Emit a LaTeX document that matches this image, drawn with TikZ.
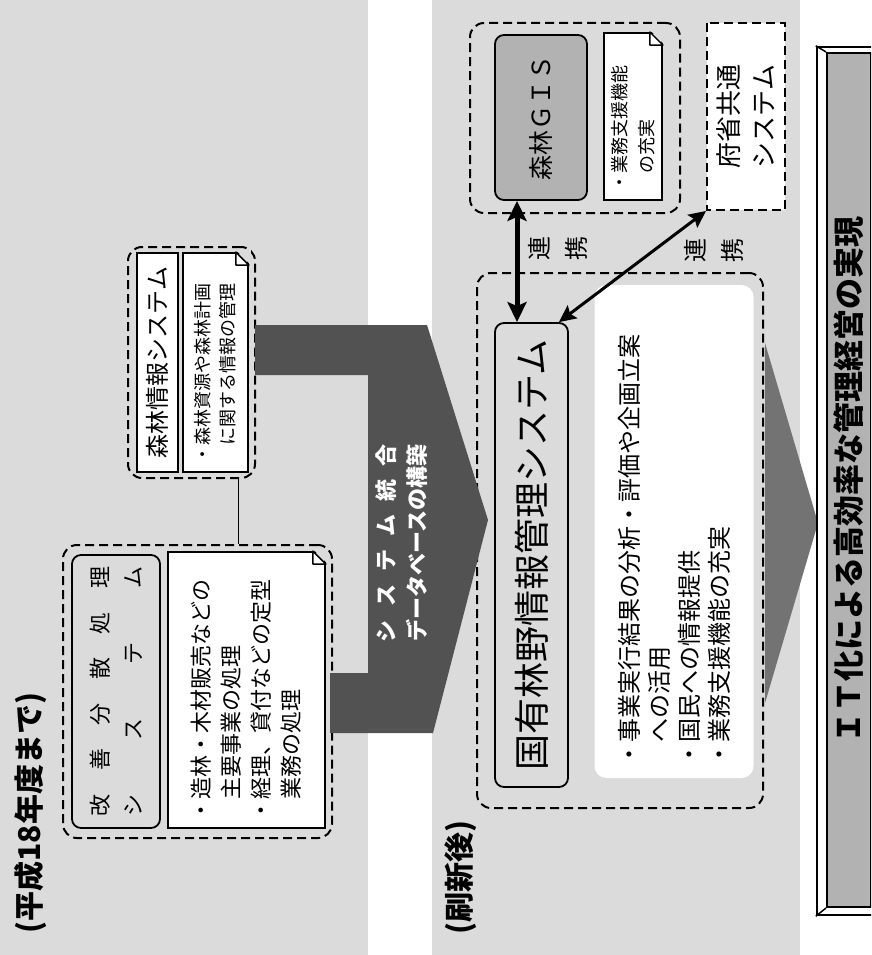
\documentclass[tikz,border=0pt]{standalone}
\usepackage{fontspec}
\setmainfont{Noto Sans CJK JP}
\usepackage{tikz}
\usetikzlibrary{shapes.geometric, arrows, arrows.meta, positioning}
\definecolor{panelgray}{gray}{0.86}
\definecolor{boxgray}{gray}{0.70}
\definecolor{darkarrow}{gray}{0.32}
\definecolor{lightarrow}{gray}{0.45}
\tikzstyle{group} = [rectangle, draw=black, line width=2pt, dash pattern=on 9pt off 5pt, rounded corners=14pt]
\tikzstyle{plainbox} = [rectangle, rotate=90, draw=black, line width=1.8pt, fill=white, align=center, inner sep=0pt]
\tikzstyle{roundbox} = [plainbox, rounded corners=9pt, fill=none]
\tikzstyle{doc} = [plainbox, align=left]
\tikzstyle{heading} = [rotate=90, inner sep=0pt, font=\bfseries\fontsize{30}{30}\selectfont]
\tikzstyle{linkname} = [rotate=90, align=center, inner sep=0pt, font=\fontsize{24}{37}\selectfont]
\tikzstyle{linkarrow} = [<->, >={Stealth[length=20pt, width=19pt, inset=4pt]}]
\tikzstyle{linkarrowthin} = [<->, >={Stealth[length=17pt, width=16pt, inset=3pt]}]
\newcommand{\docfold}[1]{%
  \fill[panelgray] ([xshift=-13pt,yshift=2pt]#1.south east) -- ([xshift=2pt,yshift=2pt]#1.south east) -- ([xshift=2pt,yshift=-13pt]#1.south east) -- cycle;
  \draw[line width=1.5pt, line join=round] ([xshift=-13pt]#1.south east) -- ([xshift=-13pt,yshift=-13pt]#1.south east) -- ([yshift=-13pt]#1.south east) -- cycle;}

\begin{document}
\begin{tikzpicture}[x=1pt, y=-1pt]
	\useasboundingbox (0,0) rectangle (871,955);
	\clip (0,0) rectangle (871,955);
	\fill[panelgray] (0,0) rectangle (368,955);
	\fill[panelgray] (432,0) rectangle (800,955);

	% before
	\node (titleBefore) [heading] at (30,813) {(平成18年度まで)};
	\node (grpForest) [group, minimum width=127pt, minimum height=231pt] at (191.5,362.5) {};
	\node (forestInfo) [plainbox, minimum width=219pt, minimum height=41pt, font=\fontsize{24}{24}\selectfont] at (157.5,362.5) {森林情報システム};
	\node (forestDoc) [doc, minimum width=219pt, minimum height=65pt, text width=202pt, font=\fontsize{18}{25}\selectfont] at (215.5,362.5) {・森林資源や森林計画\\　に関する情報の管理};
	\docfold{forestDoc}

	\node (grpKaizen) [group, minimum width=269pt, minimum height=293pt] at (197.5,691.5) {};
	\node (kaizen) [roundbox, minimum width=273pt, minimum height=88pt, font=\fontsize{22}{33}\selectfont] at (116,691.5) {\hbox to 250pt{改\hfill 善\hfill 分\hfill 散\hfill 処\hfill 理}\\\hbox to 250pt{シ\hfill ス\hfill テ\hfill ム}};
	\node (kaizenDoc) [doc, minimum width=276pt, minimum height=157pt, text width=262pt, font=\fontsize{22}{30}\selectfont] at (246.5,690) {・造林・木材販売などの\\　主要事業の処理\\・経理、貸付などの定型\\　業務の処理};
	\docfold{kaizenDoc}

	\draw [line width=1pt] ([xshift=-18pt]grpForest.south east) -- ([xshift=-18pt]grpForest.south east |- grpKaizen.north);

	% after
	\node (titleAfter) [heading] at (461,877) {(刷新後)};
	\fill[lightarrow] (765,343) -- (818,523) -- (765,703) -- cycle;
	\node (grpKokuyu) [group, minimum width=286pt, minimum height=535pt] at (620,540.5) {};
	\node (kokuyu) [roundbox, minimum width=464pt, minimum height=73pt, font=\fontsize{36}{36}\selectfont] at (531.5,555) {国有林野情報管理システム};
	\node (kokuyuDoc) [rotate=90, fill=white, rounded corners=12pt, align=left, minimum width=493pt, minimum height=159pt, text width=470pt, font=\fontsize{24}{30}\selectfont] at (674,531.5) {・事業実行結果の分析・評価や企画立案\\　への活用\\・国民への情報提供\\・業務支援機能の充実};

	\fill[darkarrow] (255,325) -- (427,325) -- (488,520) -- (433,733) -- (330,733) -- (330,673) -- (368,673) -- (368,375) -- (255,375) -- cycle;
	\node (mergeText) [rotate=90, align=center, inner sep=0pt, text=white, font=\bfseries\fontsize{22}{31}\selectfont] at (402,543) {\hbox to 198pt{シ\hfill ス\hfill テ\hfill ム\hfill 統\hfill 合}\\データベースの構築};

	\node (grpGis) [group, minimum width=210pt, minimum height=190pt] at (575,118) {};
	\node (gis) [roundbox, fill=boxgray, minimum width=165pt, minimum height=92pt, font=\fontsize{25}{25}\selectfont] at (541,117.5) {森林ＧＩＳ};
	\node (gisDoc) [doc, minimum width=167pt, minimum height=58pt, text width=150pt, font=\fontsize{18}{27}\selectfont] at (633,116.5) {・業務支援機能\\　の充実};
	\docfold{gisDoc}
	\node (fusho) [group, sharp corners, rotate=90, fill=white, align=center, minimum width=187pt, minimum height=78pt, font=\fontsize{26}{35}\selectfont] at (746,116.5) {府省共通\\システム};

	\draw [linkarrow, line width=5pt] ([xshift=-24pt]gis.west) -- ([xshift=-24pt]gis.west |- kokuyu.east);
	\draw [linkarrowthin, line width=3pt] ([xshift=-10pt]kokuyu.south east) -- (fusho.north west);
	\node (renkeiGis) [linkname] at (558,248) {連\\携};
	\node (renkeiFusho) [linkname] at (714,250) {連\\携};

	% result
	\node (bannerFrame) [rectangle, draw=black, line width=2.5pt, fill=white, minimum width=64pt, minimum height=868pt] at (849,481) {};
	\node (banner) [rectangle, rotate=90, draw=black, line width=2pt, fill=boxgray, inner sep=0pt, minimum width=854pt, minimum height=44pt, font=\bfseries\fontsize{31}{31}\selectfont] at (849,480) {ＩＴ化による高効率な管理経営の実現};
	\draw [line width=1.5pt] (bannerFrame.north west) -- (banner.north east);
	\draw [line width=1.5pt] (bannerFrame.south west) -- (banner.north west);
	\draw [line width=1.5pt] (bannerFrame.north east) -- (banner.south east);
	\draw [line width=1.5pt] (bannerFrame.south east) -- (banner.south west);
\end{tikzpicture}
\end{document}
